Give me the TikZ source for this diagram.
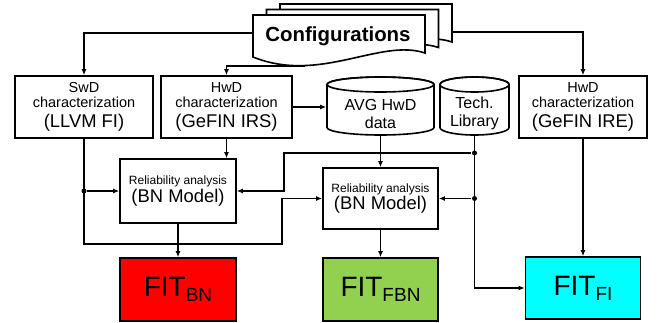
\documentclass[tikz,border=0pt]{standalone}
\usepackage{fontspec}
\setmainfont{Liberation Sans}
\usetikzlibrary{arrows.meta}
\definecolor{fitRed}{HTML}{FF0000}
\definecolor{fitGreen}{HTML}{92D050}
\definecolor{fitCyan}{HTML}{00FFFF}
\newcommand\fsSmall{\fontsize{14.5}{15}\selectfont}
\newcommand\fsBig{\fontsize{18.4}{20}\selectfont}
\newcommand\fsData{\fontsize{16}{18}\selectfont}
\newcommand\fsRel{\fontsize{12}{13}\selectfont}
\newcommand\fsCfg{\fontsize{20.4}{22}\selectfont}
\newcommand\fsFit{\fontsize{28}{30}\selectfont}
\newcommand\fsSub{\fontsize{19}{20}\selectfont}

\begin{document}
\begin{tikzpicture}[x = 1pt, y = -1pt, line width = 1.6pt,
		box/.style = {draw, fill = white, align = center, inner sep = 0pt},
		fitbox/.style = {draw, inner sep = 0pt, minimum width = 116pt, minimum height = 63pt, font = \fsFit},
		arr/.style = {-{Latex[length = 6pt, width = 5pt]}},
		dot/.style = {circle, fill, inner sep = 0pt, minimum size = 5pt}]
		\useasboundingbox (0, 0) rectangle (659, 322);
		%%%%%%%%%%%%%
		\foreach \dx/\dy in {27/-11, 13.5/-5.5, 0/0}
			\draw [fill = white, shift = {(\dx, \dy)}] (253, 57) -- (253, 15) -- (425, 15) -- (425, 53)
				.. controls (380, 38) and (320, 84) .. (253, 57) -- cycle;
		\node [font = \fsCfg\bfseries] (cfg) at (338, 36) {Configurations};
		\coordinate (cfgW) at (253, 33);
		\coordinate (cfgS) at (305, 66);
		\coordinate (cfgE) at (452, 32);
		%%%%%%%%%%%%%
		\node [box, font = \fsSmall, minimum width = 138pt, minimum height = 62pt] (swd) at (84, 107)
			{SwD\\characterization\\[5pt]{\fsBig (LLVM FI)}};
		\node [box, font = \fsSmall, minimum width = 131pt, minimum height = 62pt] (irs) at (226.5, 107)
			{HwD\\characterization\\[5pt]{\fsBig (GeFIN IRS)}};
		\node [box, font = \fsSmall, minimum width = 128pt, minimum height = 62pt] (ire) at (583, 107)
			{HwD\\characterization\\[5pt]{\fsBig (GeFIN IRE)}};
		%%%%%%%%%%%%%
		\draw [fill = white] (327, 84.5) -- (327, 127.5) arc [start angle = 180, end angle = 0, x radius = 53.5, y radius = 7.5]
			-- (434, 84.5) arc [start angle = 0, end angle = -180, x radius = 53.5, y radius = 7.5];
		\draw (380.5, 84.5) ellipse [x radius = 53.5, y radius = 7.5];
		\draw [fill = white] (440, 84.5) -- (440, 127.5) arc [start angle = 180, end angle = 0, x radius = 34.5, y radius = 7.5]
			-- (509, 84.5) arc [start angle = 0, end angle = -180, x radius = 34.5, y radius = 7.5];
		\draw (474.5, 84.5) ellipse [x radius = 34.5, y radius = 7.5];
		\node [align = center, inner sep = 0pt, font = \fsData, minimum width = 107pt, minimum height = 43pt] (avg) at (380.5, 113.5) {AVG HwD\\data};
		\node [align = center, inner sep = 0pt, font = \fsData, minimum width = 69pt, minimum height = 43pt] (tech) at (474.5, 113.5) {Tech.\\Library};
		%%%%%%%%%%%%%
		\node [box, minimum width = 116pt, minimum height = 64pt] (rel1) at (178, 191)
			{{\fsRel Reliability analysis}\\[1pt]{\fsBig (BN Model)}};
		\node [box, minimum width = 115pt, minimum height = 61pt] (rel2) at (380.5, 198.5)
			{{\fsRel Reliability analysis}\\[1pt]{\fsBig (BN Model)}};
		%%%%%%%%%%%%%
		\node [fitbox, fill = fitRed] (fitbn) at (178, 289.5) {FIT\raisebox{-5pt}{\fsSub BN}};
		\node [fitbox, fill = fitGreen, minimum width = 115pt] (fitfbn) at (380.5, 289.5) {FIT\raisebox{-5pt}{\fsSub FBN}};
		\node [fitbox, fill = fitCyan, minimum width = 115pt, minimum height = 62pt] (fitfi) at (583, 288) {FIT\raisebox{-5pt}{\fsSub FI}};
		%%%%%%%%%%%%%
		\draw [arr] (cfgW) -| (swd.north);
		\draw [arr] (cfgS) -| (irs.north);
		\draw [arr] (cfgE) -| (ire.north);
		\draw [arr] (irs.east) -- (irs.east -| avg.west);
		\draw [arr] (irs.south) -- (irs.south |- rel1.north);
		\draw [arr] (avg.south) -- (rel2.north);
		%%%%%%%%%%%%%%%%%%%%%%
		\coordinate (swdLow) at (282, 244);
		\node [dot] (d1) at (swd.south |- rel1.west) {};
		\draw [arr] (swd.south) |- (swdLow) |- (rel2.west);
		\draw [arr] (d1) -- (rel1.west);
		\coordinate (techBend) at (284, 153);
		\node [dot] (d2) at (tech.south |- techBend) {};
		\node [dot] (d3) at (tech.south |- rel2.east) {};
		\draw [arr] (tech.south) |- (fitfi.west);
		\draw [arr] (d2) -- (techBend) |- (rel1.east);
		\draw [arr] (d3) -- (rel2.east);
		%%%%%%%%%%%%%%%%%%%%%%
		\draw [arr] (rel1.south) -- (fitbn.north);
		\draw [arr] (rel2.south) -- (fitfbn.north);
		\draw [arr] (ire.south) -- (fitfi.north);
\end{tikzpicture}
\end{document}
